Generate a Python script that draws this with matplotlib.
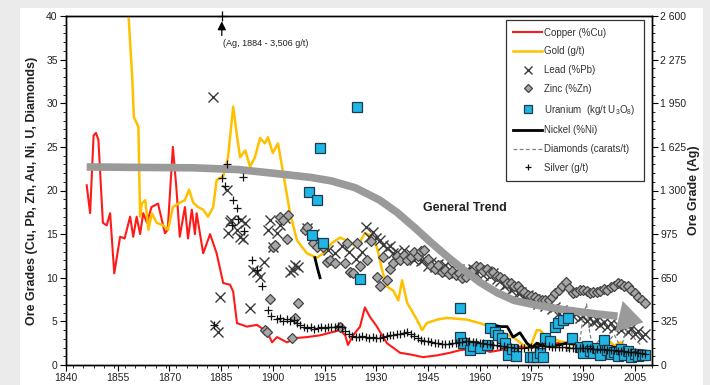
import matplotlib
matplotlib.use('Agg')
import matplotlib.pyplot as plt
from matplotlib.patches import Rectangle
from matplotlib.ticker import MultipleLocator, FuncFormatter
import numpy as np

plt.rcParams['font.family'] = ['Liberation Sans', 'DejaVu Sans']
plt.rcParams['mathtext.fontset'] = 'custom'
plt.rcParams['mathtext.rm'] = 'Liberation Sans'

# ---- data ----
cu_years = [1846, 1847, 1848, 1848.7, 1849.4, 1850.7, 1851.8, 1852.8, 1854, 1855.7,
            1857, 1858.6, 1859.5, 1860.5, 1861.5, 1862.4, 1863.5, 1864.8, 1866.7, 1868.7,
            1869.5, 1871, 1872, 1873, 1874.5, 1875.4, 1876.5, 1877.4, 1877.9, 1879.8,
            1881.8, 1883.7, 1885.6, 1887.6, 1888.5, 1889.6, 1892.5, 1895.4, 1898.3, 1899.8,
            1901.2, 1904.1, 1907, 1909.9, 1913.7, 1916.6, 1919.5, 1921, 1921.8, 1923.3,
            1925.3, 1926.7, 1928.2, 1930.2, 1931.7, 1933.1, 1936.9, 1940, 1943.6, 1947.6,
            1951.4, 1954.3, 1957, 1960, 1963, 1966, 1969, 1972, 1975, 1978,
            1981, 1984, 1987, 1990, 1993, 1996, 1999, 2002, 2005, 2008]
cu_vals = [20.6, 17.4, 26.3, 26.6, 25.8, 16.3, 16.0, 17.4, 10.5, 14.7,
           14.5, 17.0, 14.7, 17.0, 15.0, 17.4, 16.3, 18.1, 18.5, 15.1,
           15.5, 25.0, 20.4, 14.7, 18.1, 14.5, 17.8, 15.0, 17.4, 12.8,
           15.0, 12.8, 9.4, 9.2, 8.4, 4.8, 4.4, 4.6, 3.8, 2.6,
           3.2, 2.6, 3.1, 3.2, 3.4, 3.7, 4.0, 3.4, 2.3, 3.4,
           4.4, 6.6, 5.5, 4.4, 3.4, 2.5, 1.4, 1.2, 0.9, 1.1,
           1.4, 1.7, 1.8, 1.9, 1.5, 1.7, 2.0, 2.1, 2.0, 2.3,
           2.4, 2.6, 2.5, 2.4, 2.1, 2.0, 1.8, 1.5, 1.2, 1.0]

au_years = [1858, 1859.2, 1859.7, 1861, 1861.5, 1862, 1863, 1863.9, 1864.9, 1866.3,
            1868.2, 1869.6, 1871, 1873, 1874.5, 1875.7, 1876.9, 1878.3, 1879.8, 1881.2,
            1882.7, 1883.7, 1885.6, 1887, 1888.5, 1889.5, 1890.5, 1892, 1893.4, 1894.8,
            1896.3, 1897.7, 1898.6, 1900, 1901.5, 1903, 1905, 1907, 1908.5, 1909.9,
            1912.8, 1914.6, 1917.2, 1919.5, 1922.4, 1924.4, 1926.7, 1928.2, 1930.2, 1931.7,
            1933.1, 1935, 1936.4, 1937.5, 1939, 1941.8, 1943.3, 1944.7, 1947.6, 1950.5,
            1953.4, 1956.3, 1960, 1963, 1965.9, 1969.7, 1972.6, 1974.6, 1975.5, 1976.6,
            1977.5, 1979, 1981.9, 1985, 1988, 1991, 1993, 1995, 1997, 1999,
            2001, 2003, 2005, 2008]
au_vals = [41, 33, 28.4, 27.3, 17.0, 18.5, 18.9, 15.5, 17.4, 16.3,
           16.0, 15.5, 18.1, 18.6, 18.9, 20.1, 18.6, 18.1, 17.8, 17.0,
           18.1, 21.2, 21.6, 23.8, 29.6, 26.6, 23.8, 24.6, 22.7, 23.8,
           26.0, 25.4, 26.1, 24.3, 25.4, 22.0, 17.4, 14.3, 13.5, 12.8,
           12.3, 12.8, 14.0, 14.6, 14.1, 13.5, 15.1, 14.9, 13.5, 10.9,
           9.0, 8.5, 7.4, 9.7, 7.1, 5.2, 4.0, 4.8, 5.2, 5.4,
           5.3, 5.2, 4.8, 4.4, 3.8, 3.2, 2.3, 1.9, 2.9, 4.0,
           4.0, 3.4, 2.9, 2.5, 2.2, 2.4, 2.0, 1.9, 3.0, 2.2,
           2.6, 1.8, 1.6, 1.5]

pb_early_years = [1882.7, 1883.3, 1884.0, 1884.7, 1886.6, 1887.0, 1887.6, 1888.0, 1889.5, 1890.5,
                  1890.8, 1891.3, 1892.0, 1893.4, 1894.3, 1895.4, 1896.3, 1897.3, 1898.6, 1899.2,
                  1900.0, 1901.2, 1902.0, 1903.5, 1905.0, 1905.9, 1906.4, 1907.3, 1909.9, 1912.0,
                  1914.0, 1916.0, 1918.0, 1920.0, 1922.0, 1924.0, 1926.0, 1927.0]
pb_early_vals = [30.7, 4.6, 3.8, 7.8, 20.1, 15.1, 16.4, 16.6, 15.5, 14.7,
                 16.6, 14.4, 16.3, 6.5, 10.9, 10.7, 10.1, 11.8, 15.5, 16.6,
                 13.5, 15.1, 16.0, 16.8, 10.7, 10.9, 11.5, 11.2, 15.7, 15.0,
                 14.0, 13.2, 12.8, 13.6, 13.0, 12.2, 13.0, 15.8]
pb_band_years = list(range(1928, 2009))
pb_band_vals = [14.7, 15.2, 14.6, 14.3, 13.8, 13.4, 13.6, 12.8, 12.9, 12.6,
                13.2, 12.4, 12.7, 12.0, 12.5, 11.9, 12.2, 11.4, 11.8, 11.2,
                11.6, 11.0, 11.5, 10.8, 11.2, 10.5, 11.0, 10.6, 10.9, 10.4,
                11.0, 10.6, 10.9, 10.3, 10.8, 10.2, 10.5, 9.8, 9.6, 9.0,
                9.3, 8.6, 8.8, 8.2, 8.4, 7.8, 8.0, 7.4, 7.6, 7.0,
                7.2, 6.8, 7.0, 6.4, 6.6, 6.0, 6.3, 5.9, 6.1, 5.6,
                5.8, 5.4, 5.6, 5.1, 5.4, 4.9, 5.2, 4.6, 4.9, 4.4,
                4.8, 4.2, 4.6, 4.0, 4.8, 3.8, 4.2, 3.5, 3.9, 3.2,
                3.6]

zn_early_years = [1897.7, 1898.3, 1899.2, 1900.0, 1900.6, 1902.0, 1903.0, 1904.0, 1904.4, 1905.5,
                  1906.4, 1907.3, 1909.3, 1909.9, 1911.7, 1912.8, 1914.6, 1915.7, 1916.6, 1918.0,
                  1919.5, 1920.9, 1921.5, 1922.4, 1923.3, 1924.4, 1925.3, 1927.3, 1928.5, 1930.2,
                  1931.0, 1932.0, 1933.0, 1934.0, 1934.9, 1936.0]
zn_early_vals = [4.0, 3.8, 7.6, 13.5, 13.8, 17.0, 16.6, 14.4, 17.2, 3.1,
                 5.4, 7.1, 15.5, 15.8, 14.0, 13.5, 13.5, 11.8, 12.0, 11.7,
                 4.4, 11.7, 14.0, 10.7, 10.5, 14.0, 11.3, 12.0, 14.2, 10.1,
                 9.0, 12.4, 9.7, 11.0, 11.7, 12.5]
zn_band_years = list(range(1937, 2009))
zn_band_vals = [12.0, 12.6, 12.0, 12.4, 12.9, 12.5, 13.1, 13.2, 12.2, 11.3,
                11.0, 11.5, 10.7, 10.9, 10.4, 10.8, 10.3, 10.6, 10.0, 10.1,
                10.6, 10.9, 11.4, 11.2, 10.8, 11.0, 10.5, 10.7, 10.2, 10.1,
                9.8, 9.4, 9.4, 9.0, 9.0, 8.6, 8.4, 8.0, 7.9, 7.8,
                7.6, 7.5, 7.4, 7.5, 7.8, 8.2, 8.6, 9.0, 9.5, 8.8,
                8.2, 8.4, 8.6, 8.6, 8.5, 8.3, 8.4, 8.4, 8.5, 8.7,
                8.6, 8.9, 9.1, 9.4, 9.3, 9.0, 9.0, 8.6, 8.2, 7.8,
                7.4, 7.1]

u_years = [1910.5, 1911.4, 1912.8, 1913.7, 1914.6, 1924.4, 1925.3, 1954.3, 1954.3, 1955.2,
           1957.2, 1958, 1960.1, 1962.1, 1963, 1964.5, 1965.4, 1966.5, 1967.4, 1968.3,
           1969.5, 1970.5, 1974.6, 1975.6, 1976.6, 1977.5, 1978.4, 1979, 1980.4, 1981.9,
           1982.8, 1984.3, 1985.7, 1986.8, 1989, 1990, 1991, 1992, 1993, 1994,
           1995, 1996, 1997, 1998, 1999, 2000, 2001, 2002, 2003, 2004,
           2005, 2006, 2007, 2008]
u_vals = [19.8, 14.9, 18.9, 24.9, 14.0, 29.6, 9.9, 6.5, 3.2, 2.5,
          1.7, 2.2, 2.0, 2.3, 4.2, 3.8, 3.4, 3.1, 2.5, 1.1,
          1.8, 1.0, 0.9, 0.9, 0.9, 1.4, 0.9, 3.1, 2.7, 4.4,
          4.8, 5.2, 5.4, 3.1, 2.1, 1.4, 2.2, 1.6, 1.4, 1.9,
          1.2, 2.9, 1.7, 1.3, 1.5, 1.0, 1.8, 1.2, 1.6, 0.9,
          1.3, 1.0, 1.2, 1.1]

# nickel: short early record, gap, then modern record
ni_years = [1912.2, 1913.0, 1913.7, np.nan,
            1964, 1966, 1968, 1969.7, 1971.7, 1973.7, 1975.2, 1976.6, 1978.5, 1980.4,
            1983, 1985.3, 1988, 1991, 1994, 1997.8, 2001, 2004.5, 2008]
ni_vals = [12.3, 11.0, 10.0, np.nan,
           4.6, 4.4, 4.4, 3.2, 3.7, 2.5, 2.0, 2.5, 2.2, 2.1,
           2.3, 2.5, 2.4, 2.3, 2.2, 2.1, 1.9, 1.7, 1.6]

dia_years = [1985, 1987, 1989, 1990, 1991, 1992, 1993, 1995, 1997, 1999, 2001, 2003, 2005, 2007]
dia_vals = [1.5, 2.0, 2.5, 5.5, 7.0, 3.5, 2.0, 3.0, 2.5, 3.5, 2.0, 4.5, 3.0, 2.2]

# silver in g/t (right axis)
ag_early_years = [1883.0, 1885.3, 1886.0, 1886.6, 1888.3, 1888.5, 1889.5, 1890.0, 1891.3, 1891.5,
                  1893.9, 1895.3, 1896.8, 1898.6, 1899.5, 1901.2, 1902.0, 1903.0]
ag_early_gt = [300, 1390, 1330, 1500, 1040, 1230, 1170, 1090, 1400, 995,
               780, 710, 585, 410, 365, 340, 350, 325]
ag_band_years = list(range(1904, 2009))
ag_band_gt = [345, 325, 338, 312, 299, 286, 273, 280, 267, 273,
              280, 273, 286, 286, 280, 293, 286, 254, 228, 215,
              208, 208, 215, 208, 202, 208, 202, 202, 208, 215,
              221, 221, 228, 234, 240, 247, 234, 215, 202, 189,
              182, 176, 169, 163, 163, 156, 156, 156, 163, 163,
              169, 169, 176, 176, 169, 169, 163, 163, 156, 156,
              150, 150, 143, 143, 137, 137, 130, 130, 130, 130,
              137, 137, 137, 143, 143, 143, 143, 137, 137, 137,
              137, 137, 130, 130, 130, 124, 124, 124, 124, 117,
              117, 117, 117, 111, 111, 111, 104, 104, 104, 98,
              98, 98, 91, 91, 85]
ag_peak_year = 1884
ag_peak_gt = 3506

# general trend arrow path
trend_years = [1846, 1860, 1877, 1890, 1902, 1911, 1917, 1924, 1931, 1936,
               1941, 1946, 1951, 1956, 1960, 1965, 1970, 1976, 1985, 1995, 2000]
trend_vals = [22.7, 22.65, 22.6, 22.4, 21.9, 21.5, 21.1, 20.3, 18.9, 17.5,
              15.8, 14.0, 12.3, 10.7, 9.5, 8.3, 7.4, 6.9, 6.3, 5.8, 5.6]
trend_tip = (2007.5, 4.9)

x_ticks = list(range(1840, 2010, 15))

# ---- figure ----
W, H = 710, 385
fig = plt.figure(figsize=(W / 100, H / 100), dpi=100)
fig.patch.set_facecolor('#ebebeb')
fig.add_artist(Rectangle((20 / W, 0), 683 / W, 377 / H, transform=fig.transFigure,
                         facecolor='white', edgecolor='none', zorder=0))

ax = fig.add_axes([66 / W, 20 / H, 586 / W, 349 / H])
ax2 = ax.twinx()

gray_txt = '#222222'

l_cu, = ax.plot(cu_years, cu_vals, color='#ff1a1a', lw=1.5, zorder=3, label='Copper (%Cu)')
l_au, = ax.plot(au_years, au_vals, color='#ffc000', lw=1.8, zorder=3, label='Gold (g/t)')
l_pb, = ax.plot(pb_early_years + pb_band_years, pb_early_vals + pb_band_vals, ls='none',
                marker='x', ms=6.5, mew=1.0, color='#3a3a3a', zorder=4, label='Lead (%Pb)')
l_zn, = ax.plot(zn_early_years + zn_band_years, zn_early_vals + zn_band_vals, ls='none',
                marker='D', ms=5.5, mew=0.9, mfc='#a6a6a6', mec='#444444', zorder=4,
                label='Zinc (%Zn)')
l_u, = ax.plot(u_years, u_vals, ls='none', marker='s', ms=7, mew=0.9, mfc='#1fb6e6',
               mec='#1d3a4a', zorder=6, label='Uranium  (kg/t U$_3$O$_8$)')
l_ni, = ax.plot(ni_years, ni_vals, color='black', lw=2.0, zorder=5, label='Nickel (%Ni)')
l_dia, = ax.plot(dia_years, dia_vals, color='#808080', lw=0.9, ls=(0, (3, 2)), zorder=4,
                 label='Diamonds (carats/t)')

# general trend
ax.plot(trend_years, trend_vals, color='#9a9a9a', lw=5.5, solid_capstyle='butt', zorder=5)
ax.annotate('', xy=trend_tip, xytext=(trend_years[-1], trend_vals[-1]),
            arrowprops=dict(arrowstyle='-|>,head_length=1.8,head_width=1.15',
                            mutation_scale=10, color='#9a9a9a', lw=0,
                            shrinkA=0, shrinkB=0), zorder=5)
ax.text(1955.7, 18.0, 'General Trend', fontsize=9, fontweight='bold', color=gray_txt,
        ha='center', va='center')

# silver on right axis
l_ag, = ax2.plot(ag_early_years + ag_band_years, ag_early_gt + ag_band_gt, ls='none',
                 marker='+', ms=6, mew=0.9, color='#111111', zorder=4, label='Silver (g/t)')

# off-scale silver peak marker
ag_x = ag_peak_year + 1.2
ax2.annotate('', xy=(ag_x, 2560), xytext=(ag_x, 2455),
             arrowprops=dict(arrowstyle='-|>,head_length=0.5,head_width=0.25',
                             mutation_scale=10, color='black', lw=0.9,
                             shrinkA=0, shrinkB=0))
ax2.plot([ag_x], [2600], marker='+', ms=7, mew=0.9, color='black', clip_on=False)
ax2.text(ag_x + 0.3, 2395, f'(Ag, {ag_peak_year} - {ag_peak_gt:,} g/t)', fontsize=6.5,
         color=gray_txt, ha='left', va='center')

# axes
ax.set_xlim(1840, 2010)
ax.set_ylim(0, 40)
ax2.set_ylim(0, 2600)
ax.set_xticks(x_ticks)
ax.xaxis.set_minor_locator(MultipleLocator(3))
ax.yaxis.set_major_locator(MultipleLocator(5))
ax.yaxis.set_minor_locator(MultipleLocator(1))
ax2.yaxis.set_major_locator(MultipleLocator(325))
ax2.yaxis.set_minor_locator(MultipleLocator(65))
ax2.yaxis.set_major_formatter(FuncFormatter(lambda v, p: f'{int(v):,}'.replace(',', ' ')))

for a in (ax, ax2):
    a.tick_params(which='major', direction='out', length=4, width=0.8, labelsize=7.5,
                  colors='black', labelcolor=gray_txt, pad=2)
    a.tick_params(which='minor', direction='out', length=2, width=0.6)
    for s in a.spines.values():
        s.set_linewidth(1.0)
        s.set_color('black')

ax.set_ylabel('Ore Grades (Cu, Pb, Zn, Au, Ni, U, Diamonds)', fontsize=9,
              fontweight='bold', color=gray_txt)
ax.yaxis.set_label_coords(-0.048, 0.5)
ax2.set_ylabel('Ore Grade (Ag)', fontsize=9, fontweight='bold', color=gray_txt)
ax2.yaxis.set_label_coords(1.061, 0.5)

handles = [l_cu, l_au, l_pb, l_zn, l_u, l_ni, l_dia, l_ag]
leg = ax2.legend(handles=handles, loc='upper right', bbox_to_anchor=(0.986, 0.989),
                 borderaxespad=0, fontsize=7, frameon=True, fancybox=False,
                 edgecolor='#333333', framealpha=1, handlelength=3.0,
                 handletextpad=0.2, labelspacing=0.9, borderpad=0.8, markerscale=0.8)
leg.get_frame().set_linewidth(0.9)
for t in leg.get_texts():
    t.set_color('#333333')

fig.savefig('out.png', dpi=100, facecolor=fig.get_facecolor())
